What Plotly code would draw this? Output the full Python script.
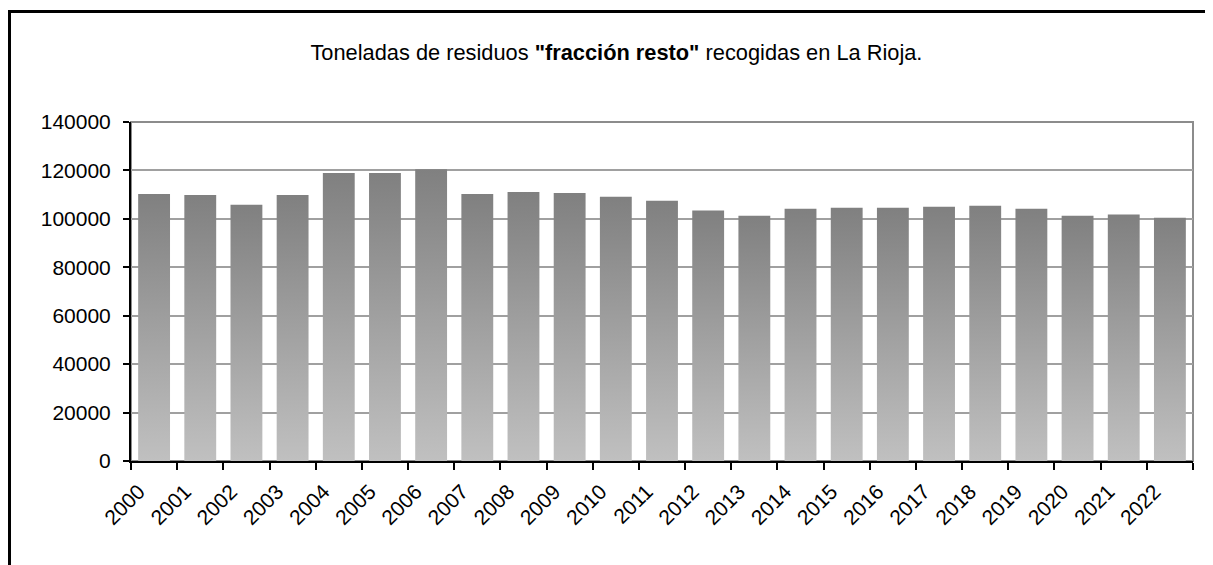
import plotly.graph_objects as go

# Toneladas de residuos "fracción resto" recogidas en La Rioja
years = [2000, 2001, 2002, 2003, 2004, 2005, 2006, 2007, 2008, 2009, 2010, 2011,
         2012, 2013, 2014, 2015, 2016, 2017, 2018, 2019, 2020, 2021, 2022]
year_labels = [str(y) for y in years]
tons = [110300, 109900, 105800, 109900, 118900, 118900, 120500, 110300, 111100,
        110700, 109100, 107500, 103400, 101300, 104200, 104600, 104600, 105000,
        105400, 104200, 101300, 101800, 100500]

y_ticks = [0, 20000, 40000, 60000, 80000, 100000, 120000, 140000]

FONT = "Liberation Sans, Arial, Helvetica, sans-serif"
bar_width = 0.69

fig = go.Figure()

# bars with a vertical gradient (light at base, dark at top)
for yr, v in zip(years, tons):
    hw = bar_width / 2
    fig.add_trace(go.Scatter(
        x=[yr - hw, yr - hw, yr + hw, yr + hw, yr - hw],
        y=[0, v, v, 0, 0],
        mode="lines",
        line=dict(width=0, color="rgba(0,0,0,0)"),
        fill="toself",
        fillcolor="#a0a0a0",
        fillgradient=dict(type="vertical",
                          colorscale=[[0, "#c0c0c0"], [1, "#808080"]],
                          start=0, stop=v),
        hoverinfo="text",
        text=f"{yr}: {v}",
        showlegend=False,
    ))

# the page body adds an 8px offset, margins compensate for it
fig.update_layout(
    width=1213,
    height=565,
    margin=dict(l=123, r=28, t=114, b=112),
    paper_bgcolor="white",
    plot_bgcolor="white",
    font=dict(family=FONT, size=21, color="black"),
    title=dict(
        text='Toneladas de residuos <b>"fracción resto"</b> recogidas en La Rioja.',
        x=0.5016, xanchor="center",
        y=0.922, yanchor="middle",
        font=dict(family=FONT, size=21.8, color="black"),
    ),
    showlegend=False,
)

fig.update_xaxes(
    range=[years[0] - 0.5, years[-1] + 0.5],
    tickmode="array",
    tickvals=[y - 0.33 for y in years],
    ticktext=year_labels,
    tickangle=-45,
    ticks="",
    ticklabelstandoff=8,
    showline=True, linecolor="black", linewidth=2,
    showgrid=False, zeroline=False,
    minor=dict(tickmode="array",
               tickvals=[y - 0.5 for y in years] + [years[-1] + 0.5],
               ticks="outside", ticklen=7, tickwidth=2, tickcolor="black",
               showgrid=False),
    fixedrange=True,
)

fig.update_yaxes(
    range=[0, 140000],
    tickmode="array",
    tickvals=y_ticks,
    tickformat="d",
    ticks="outside", ticklen=6, tickwidth=2, tickcolor="black",
    ticklabelstandoff=8,
    showline=True, linecolor="black", linewidth=2,
    showgrid=True, gridcolor="#a0a0a0", gridwidth=2,
    zeroline=False,
    fixedrange=True,
)

# plot area border (top and right in grey)
fig.add_shape(type="rect", xref="paper", yref="paper", x0=0, x1=1, y0=0, y1=1,
              line=dict(color="#8c8c8c", width=2), layer="below")
# outer chart frame, cut by the page edges
fig.add_shape(type="rect", xref="paper", yref="paper",
              x0=-0.1144, x1=1.2, y0=-0.5, y1=1.326,
              line=dict(color="black", width=3), layer="above")

fig.write_html("out.html")
